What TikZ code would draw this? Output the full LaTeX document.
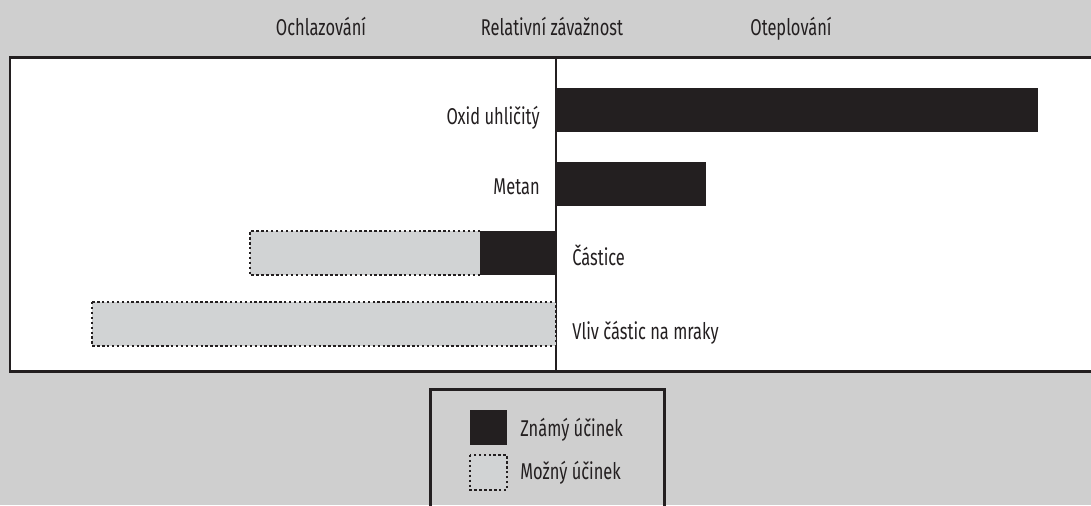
\documentclass[tikz,border=0pt]{standalone}
\usepackage{fontspec}
\setmainfont{Fira Sans}[FakeStretch=0.72]
\usetikzlibrary{positioning}

\definecolor{bggray}{RGB}{207,207,207}
\definecolor{knownblack}{RGB}{35,31,32}
\definecolor{possgray}{RGB}{209,211,212}

\tikzset{
	known/.style={fill=knownblack},
	possible/.style={fill=possgray, draw=knownblack, line width=1.4pt, dash pattern=on 1.4pt off 1.4pt},
	lbl/.style={font=\fontsize{13}{15}\selectfont, inner sep=0pt, text=knownblack},
	frame/.style={draw=knownblack, line width=1.7pt},
}

\begin{document}
\begin{tikzpicture}[x=0.02cm, y=-0.02cm]

% parameters %{{{2

	\def\axis{556}
	\def\barh{44}

% background %{{{2

	\useasboundingbox (0,0) rectangle (1091,505);
	\fill[bggray] (0,0) rectangle (1091,505);

% panel %{{{2

	\fill[white] (10,57) rectangle (1091,371);
	\draw[frame] (1091,57) -- (10,57) -- (10,371) -- (1091,371);
	\draw[knownblack, line width=1.1pt] (\axis,57) -- (\axis,371);

% bars %{{{2

	\fill[known] (\axis,88) rectangle (1038,88+\barh);
	\fill[known] (\axis,162) rectangle (706,162+\barh);
	\fill[possgray] (250,231) rectangle (480,275);
	\draw[possible] (480,231) -- (250,231) -- (250,275) -- (480,275);
	\fill[known] (480,231) rectangle (\axis,275);
	\draw[possible] (92,302) rectangle (\axis,346);

% titles %{{{2

	\node[lbl, anchor=base] (ochl) at (321,35) {Ochlazování};
	\node[lbl, anchor=base] (rel) at (552,35) {Relativní závažnost};
	\node[lbl, anchor=base] (otepl) at (791,35) {Oteplování};

% bar labels %{{{2

	\node[lbl, anchor=base east] (co2) at (540,124) {Oxid uhličitý};
	\node[lbl, anchor=base east] (metan) at (540,194) {Metan};
	\node[lbl, anchor=base west] (castice) at (572,265) {Částice};
	\node[lbl, anchor=base west] (mraky) at (572,339) {Vliv částic na mraky};

% legend %{{{2

	\draw[frame] (430,510) -- (430,389) -- (664,389) -- (664,510);
	\fill[known] (470,410) rectangle (507,445);
	\draw[possible] (470,455) rectangle (507,490);

	\node[lbl, anchor=base west] (znamy) at (520,436) {Známý účinek};
	\node[lbl, anchor=base west] (mozny) at (520,479) {Možný účinek};

% closing %{{{2

\end{tikzpicture}
\end{document}
